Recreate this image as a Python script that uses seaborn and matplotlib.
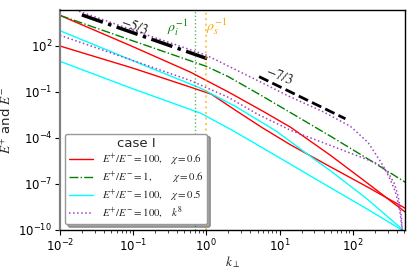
import numpy as np
import seaborn as sns
import matplotlib
matplotlib.use('Agg')
import matplotlib.pyplot as plt
from matplotlib.ticker import NullLocator, LogLocator

# spectra, stored as log10(k) and log10(E)
red_p_logk = [-2, -1, -0.22, 0.3, 0.77, 1.15, 1.7, 2.2, 2.72]
red_p_logE = [4.0, 1.95, 0.3, -1.0, -2.25, -3.3, -5.15, -6.95, -8.85]
red_m_logk = [-2, -1, -0.22, 0.07, 0.4, 0.77, 1.15, 1.7, 2.2, 2.72]
red_m_logE = [2.0, 0.55, -0.68, -1.15, -2.2, -3.35, -4.45, -5.9, -7.2, -8.6]

green_logk = [-2, -1, -0.3, 0, 0.3, 0.74, 1.15, 1.7, 2.2, 2.72]
green_logE = [4.0, 2.33, 1.17, 0.67, 0.0, -1.2, -2.35, -3.9, -5.35, -6.9]

cyan_p_logk = [-2, -0.86, -0.08, 0.4, 0.95, 1.49, 1.7, 2.2, 2.66, 2.72]
cyan_p_logE = [3.0, 0.76, -0.75, -1.95, -3.54, -5.44, -6.16, -8.0, -9.9, -10.5]
cyan_m_logk = [-2, -1, -0.08, 0.37, 1.0, 1.7, 2.2, 2.72]
cyan_m_logE = [1.0, -0.8, -2.38, -3.54, -5.3, -7.26, -8.65, -10.15]

purple_p_logk = [-2, -1, 0, 0.74, 1.15, 1.6, 1.97, 2.21, 2.38, 2.46, 2.52, 2.58, 2.62, 2.65, 2.68, 2.70]
purple_p_logE = [4.7, 3.03, 1.4, -0.35, -1.33, -2.3, -3.25, -4.3, -5.55, -6.2, -6.8, -7.5, -8.2, -9.0, -10.2, -11.5]
purple_m_logk = [-2, -1, -0.22, 0.3, 0.7, 1.15, 1.7, 2.0, 2.3, 2.42, 2.5, 2.57, 2.62, 2.66, 2.69]
purple_m_logE = [2.7, 1.05, -0.25, -1.35, -2.45, -3.5, -4.5, -5.05, -5.6, -5.96, -6.4, -7.0, -7.8, -9.0, -11.0]

# reference slopes
slope53_logk = [-1.70, 0.08]
slope53_logE = [4.03, 1.06]
slope73_logk = [0.72, 1.90]
slope73_logE = [0.0, -2.75]

k_rho_i = 0.71
k_rho_s = 1.0

labels = [r'$E^{+}/E^{-}=100,\quad\chi=0.6$',
          r'$E^{+}/E^{-}=1,\qquad\ \ \chi=0.6$',
          r'$E^{+}/E^{-}=100,\quad\chi=0.5$',
          r'$E^{+}/E^{-}=100,\quad k^{8}$']

sns.set_style('ticks')
plt.rcParams['font.family'] = ['DejaVu Sans']
plt.rcParams['mathtext.fontset'] = 'stix'

fig = plt.figure(figsize=(4.16, 2.73), dpi=100)
ax = fig.add_axes([0.144, 0.158, 0.830, 0.805])


def curve(logk, logE, color, ls, lw, label):
    sns.lineplot(x=10 ** np.array(logk), y=10 ** np.array(logE), ax=ax,
                 color=color, linestyle=ls, linewidth=lw, label=label)


curve(red_p_logk, red_p_logE, 'red', '-', 1.0, labels[0])
curve(red_m_logk, red_m_logE, 'red', '-', 1.0, '_nolegend_')
curve(green_logk, green_logE, 'green', '-.', 1.0, labels[1])
curve(cyan_p_logk, cyan_p_logE, 'cyan', '-', 1.0, labels[2])
curve(cyan_m_logk, cyan_m_logE, 'cyan', '-', 1.0, '_nolegend_')
curve(purple_p_logk, purple_p_logE, '#a040c0', ':', 1.1, labels[3])
curve(purple_m_logk, purple_m_logE, '#a040c0', ':', 1.1, '_nolegend_')

curve(slope53_logk, slope53_logE, 'black', '-.', 2.5, '_nolegend_')
curve(slope73_logk, slope73_logE, 'black', '--', 2.0, '_nolegend_')

ax.axvline(k_rho_i, color='green', ls=':', lw=1.0, alpha=0.6)
ax.axvline(k_rho_s, color='orange', ls=':', lw=1.5, alpha=0.6)

ax.text(10 ** -0.976, 10 ** 3.30, r'$-5/3$', fontsize=10, rotation=-20,
        ha='center', va='center')
ax.text(10 ** 1.0, 10 ** 0.04, r'$-7/3$', fontsize=10, rotation=-22,
        ha='center', va='center')
ax.text(10 ** -0.40, 10 ** 3.17, r'$\rho_i^{-1}$', fontsize=10, color='green',
        ha='center', va='center')
ax.text(10 ** 0.14, 10 ** 3.24, r'$\rho_s^{-1}$', fontsize=10, color='orange',
        ha='center', va='center')

ax.set_xscale('log')
ax.set_yscale('log')
ax.set_xlim(1e-2, 520)
ax.set_ylim(1e-10, 2.2e4)
ax.set_yticks([1e-10, 1e-7, 1e-4, 1e-1, 1e2])
ax.yaxis.set_minor_locator(NullLocator())
ax.xaxis.set_minor_locator(LogLocator(base=10, subs=np.arange(2, 10), numticks=20))
ax.tick_params(labelsize=8.5, colors='black', pad=2)

for side in ['top', 'right', 'bottom']:
    ax.spines[side].set_color('black')
    ax.spines[side].set_linewidth(1.0)
ax.spines['left'].set_color('gray')
ax.spines['left'].set_linewidth(1.6)

ax.set_xlabel(r'$k_{\perp}$', fontsize=9.5, labelpad=0)
ax.set_ylabel(r'$E^{+}$ and $E^{-}$', fontsize=9.5, labelpad=3)

leg = ax.legend(loc='lower left', title='case I', fontsize=7.8,
                title_fontsize=9.5, shadow=True, frameon=True,
                handlelength=2.3, labelspacing=0.15, borderpad=0.3)
leg.get_frame().set_edgecolor('0.6')

fig.savefig('out.png', dpi=100)
